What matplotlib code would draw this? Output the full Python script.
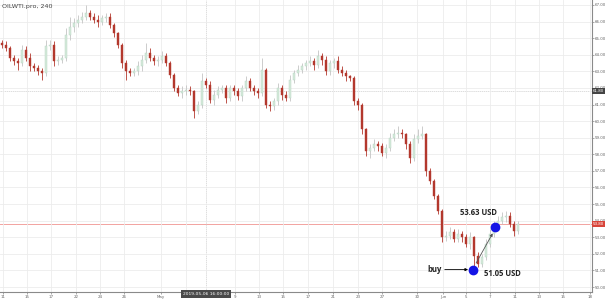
import matplotlib
matplotlib.use("Agg")
from matplotlib import pyplot as plt
from matplotlib import transforms

# 4h candles, closing prices (left to right)
first_open = 64.7
closes = [
    64.6, 64.4, 63.8, 63.6, 63.5, 64.3, 63.8, 63.3, 63.2, 63.0,
    62.9, 64.5, 64.6, 63.6, 63.7, 63.8, 65.2, 65.7, 65.9, 66.1,
    66.3, 66.5, 66.3, 66.1, 66.0, 66.2, 66.3, 65.8, 65.3, 64.6,
    63.5, 63.0, 62.9, 63.0, 63.3, 63.7, 64.1, 63.8, 63.6, 63.7,
    63.9, 63.5, 62.8, 62.0, 61.7, 61.8, 61.9, 61.8, 60.6, 61.0,
    62.4, 62.2, 61.3, 61.6, 61.9, 62.0, 61.4, 62.0, 61.8, 61.5,
    62.0, 62.4, 62.0, 61.8, 61.7, 63.1, 61.0, 60.9, 61.2, 62.0,
    61.6, 61.4, 62.5, 62.9, 63.1, 63.3, 63.5, 63.6, 63.4, 63.9,
    63.7, 63.0, 63.5, 63.6, 63.1, 62.9, 62.7, 62.6, 61.2, 61.0,
    59.5, 58.2, 58.4, 58.6, 58.5, 58.1, 58.4, 59.0, 59.2, 59.3,
    59.2, 58.6, 57.8, 58.9, 59.1, 59.2, 57.0, 56.4, 55.5, 54.6,
    53.0, 53.1, 53.3, 52.9, 53.2, 53.0, 52.6, 53.0, 51.9, 51.4,
    51.8, 52.6, 53.2, 53.7, 54.0, 54.2, 54.3, 53.8, 53.4, 53.8,
]
hi_wick = [
    0.2, 0.2, 0.1, 0.2, 0.2, 0.3, 0.2, 0.3, 0.2, 0.2,
    0.2, 0.4, 0.3, 0.2, 0.2, 0.2, 0.4, 0.6, 0.3, 0.3,
    0.3, 0.5, 0.2, 0.2, 0.3, 0.2, 0.2, 0.2, 0.1, 0.1,
    0.1, 0.2, 0.2, 0.2, 0.3, 0.3, 0.6, 0.3, 0.2, 0.2,
    0.3, 0.2, 0.1, 0.1, 0.2, 0.3, 0.3, 0.2, 0.1, 0.2,
    0.5, 0.2, 0.2, 0.3, 0.2, 0.2, 0.2, 0.2, 0.2, 0.2,
    0.2, 0.3, 0.2, 0.2, 0.2, 0.7, 0.1, 0.2, 0.2, 0.3,
    0.2, 0.2, 0.3, 0.2, 0.3, 0.2, 0.2, 0.3, 0.2, 0.4,
    0.2, 0.2, 0.2, 0.2, 0.3, 0.2, 0.2, 0.1, 0.1, 0.2,
    0.1, 0.1, 0.2, 0.3, 0.2, 0.2, 0.2, 0.3, 0.3, 0.4,
    0.2, 0.1, 0.2, 0.3, 0.4, 0.5, 0.1, 0.2, 0.1, 0.1,
    0.1, 0.3, 0.3, 0.2, 0.3, 0.2, 0.2, 0.3, 0.1, 0.2,
    0.2, 0.3, 0.3, 0.3, 0.3, 0.3, 0.3, 0.2, 0.2, 0.2,
]
lo_wick = [
    0.2, 0.2, 0.2, 0.2, 0.4, 0.2, 0.2, 0.3, 0.2, 0.2,
    0.4, 0.2, 0.2, 0.3, 0.2, 0.2, 0.2, 0.3, 0.3, 0.2,
    0.2, 0.2, 0.2, 0.2, 0.3, 0.2, 0.2, 0.2, 0.2, 0.2,
    0.3, 0.5, 0.2, 0.2, 0.2, 0.3, 0.2, 0.2, 0.2, 0.3,
    0.2, 0.2, 0.2, 0.2, 0.2, 0.3, 0.2, 0.2, 0.4, 0.2,
    0.2, 0.2, 0.2, 0.3, 0.2, 0.2, 0.3, 0.2, 0.2, 0.2,
    0.3, 0.2, 0.2, 0.2, 0.3, 0.2, 0.2, 0.3, 0.2, 0.2,
    0.3, 0.2, 0.2, 0.2, 0.2, 0.2, 0.2, 0.2, 0.3, 0.2,
    0.3, 0.2, 0.2, 0.3, 0.2, 0.2, 0.3, 0.2, 0.2, 0.3,
    0.3, 0.3, 0.4, 0.2, 0.3, 0.2, 0.3, 0.2, 0.2, 0.2,
    0.2, 0.3, 0.3, 0.2, 0.2, 0.2, 0.3, 0.2, 0.2, 0.2,
    0.3, 0.2, 0.2, 0.2, 0.2, 0.3, 0.2, 0.3, 0.85, 0.2,
    0.2, 0.2, 0.2, 0.2, 0.2, 0.2, 0.3, 0.2, 0.3, 0.2,
]

# x axis labels and where they sit (candle index)
xtick_pos = [0.25, 6.25, 12.25, 18.5, 24.5, 30.5, 39.75, 46.0, 58.25,
             64.25, 70.25, 76.5, 82.75, 89.0, 95.0, 103.75, 110.25, 116.0,
             122.0, 128.25, 134.25, 140.25, 147.0]
xtick_labels = ["11", "15", "17", "22", "24", "26", "May", "3", "9",
                "13", "15", "17", "21", "23", "27", "30", "Jun", "5", "7",
                "11", "13", "15", "18"]
yticks = list(range(50, 68))

current_price = 53.80
cross_price = 61.80
cross_x = 51.0
cross_date = "2019-05-06 16:00:00"

buy_x, buy_price = 117.8, 51.05
sell_x, sell_price = 123.3, 53.63

up_col = "#d5eadc"
up_edge = "#b5d3bf"
up_wick = "#c4c4c4"
down_col = "#b3382d"


def main():
    fig = plt.figure(figsize=(6.05, 2.99), dpi=100)
    ax = fig.add_axes([0, 7 / 299, 592 / 605, 292 / 299])

    opens = [first_open] + closes[:-1]
    for i, (o, c) in enumerate(zip(opens, closes)):
        hi = max(o, c) + hi_wick[i]
        lo = min(o, c) - lo_wick[i]
        up = c >= o
        ax.vlines(i, lo, hi, color=up_wick if up else down_col,
                  linewidth=0.6, zorder=2)
        ax.bar(i, max(abs(c - o), 0.04), bottom=min(o, c), width=0.62,
               color=up_col if up else down_col,
               edgecolor=up_edge if up else down_col,
               linewidth=0.3, zorder=3)

    ax.set_xlim(-0.5, 147.5)
    ax.set_ylim(49.70, 67.30)

    ax.set_xticks(xtick_pos)
    ax.set_xticklabels(xtick_labels)
    ax.set_yticks(yticks)
    ax.set_yticklabels([f"{v:.2f}" for v in yticks])
    ax.yaxis.tick_right()
    ax.tick_params(axis="both", labelsize=2.9, colors="#666666",
                   length=1.2, width=0.4, pad=0.8)
    ax.grid(True, color="#ececec", linewidth=0.6, zorder=0)

    for side in ["top", "left"]:
        ax.spines[side].set_visible(False)
    for side in ["right", "bottom"]:
        ax.spines[side].set_color("#8a8a8a")
        ax.spines[side].set_linewidth(0.8)

    # current price line and crosshair
    ax.axhline(current_price, color="#f2a3a0", linewidth=0.7, zorder=1)
    ax.axhline(cross_price, color="#d0d0d0", linewidth=0.5,
               linestyle=(0, (2, 1)), zorder=1)
    ax.axvline(cross_x, color="#d0d0d0", linewidth=0.5,
               linestyle=(0, (2, 1)), zorder=1)

    trans = transforms.blended_transform_factory(ax.transAxes, ax.transData)
    ax.text(1.002, current_price, f"{current_price:.2f}", transform=trans,
            fontsize=2.9, color="white", va="center", ha="left",
            bbox=dict(boxstyle="square,pad=0.3", fc="#d8453a", ec="none"),
            clip_on=False, zorder=6)
    ax.text(1.002, cross_price, f"{cross_price:.2f}", transform=trans,
            fontsize=2.9, color="white", va="center", ha="left",
            bbox=dict(boxstyle="square,pad=0.3", fc="#444444", ec="none"),
            clip_on=False, zorder=6)
    ax.text(cross_x, 49.70, cross_date, fontsize=3.2, color="white",
            ha="center", va="top",
            bbox=dict(boxstyle="square,pad=0.4", fc="#4a4a4a", ec="none"),
            clip_on=False, zorder=6)

    ax.text(0.003, 0.985, "OILWTI.pro, 240", transform=ax.transAxes,
            fontsize=4.6, color="#444444", va="top", ha="left")

    # trade annotations
    ax.plot([buy_x, sell_x], [buy_price, sell_price], "o", color="#1414e6",
            markersize=6, zorder=7)
    ax.annotate("", xy=(sell_x - 0.3, sell_price - 0.25),
                xytext=(buy_x + 0.4, buy_price + 0.25),
                arrowprops=dict(arrowstyle="-|>", color="#555555", lw=0.6,
                                mutation_scale=4), zorder=6)
    ax.annotate("", xy=(buy_x - 0.6, buy_price),
                xytext=(buy_x - 7.8, buy_price),
                arrowprops=dict(arrowstyle="-|>", color="black", lw=0.6,
                                mutation_scale=4), zorder=6)
    ax.text(buy_x - 11.5, buy_price, "buy", fontsize=5.5, fontweight="bold",
            family="Open Sans", color="#222222", va="center", ha="left")
    ax.text(buy_x + 2.8, buy_price - 0.25, f"{buy_price:.2f} USD",
            fontsize=5.5, fontweight="bold", family="Open Sans",
            color="#222222", va="center", ha="left")
    ax.text(sell_x - 4.3, sell_price + 0.85, f"{sell_price:.2f} USD",
            fontsize=5.5, fontweight="bold", family="Open Sans",
            color="#222222", va="center", ha="center")

    fig.savefig("out.png", dpi=100)


if __name__ == "__main__":
    main()
